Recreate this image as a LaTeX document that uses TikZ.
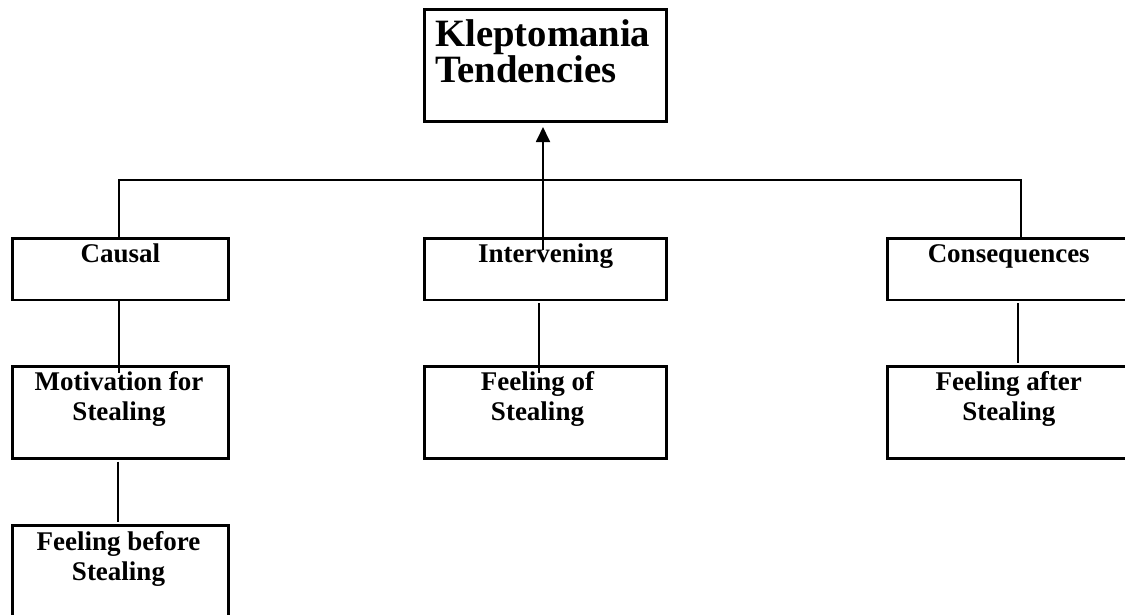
\documentclass[tikz,border=0pt]{standalone}
\usepackage{fontspec}
\setmainfont{Liberation Serif}
\usetikzlibrary{arrows.meta}
\begin{document}
\begin{tikzpicture}[x=1pt,y=-1pt,
  box/.style={draw, line width=2.6pt, rectangle, inner sep=0pt, outer sep=0pt,
    minimum width=#1},
  lbl/.style={font=\bfseries\fontsize{27}{30}\selectfont, align=center, inner sep=0pt, anchor=base},
  ttl/.style={font=\bfseries\fontsize{38.7}{33.5}\selectfont, align=left, inner sep=0pt, anchor=base west},
  conn/.style={line width=1.8pt},
  hconn/.style={line width=1.6pt}]
\useasboundingbox (0,0) rectangle (1125,614);
\clip (0,0) rectangle (1125,614);
% boxes
\node[box=242, minimum height=112] (top) at (545.5,65.5) {};
\node[box=216, minimum height=61.5] (causal) at (120.5,269.25) {};
\node[box=242, minimum height=61.5] (interv) at (545.5,269.25) {};
\node[box=242.5, minimum height=61.5] (cons) at (1008.75,269.25) {};
\node[box=216, minimum height=92] (motiv) at (120.5,412.5) {};
\node[box=242, minimum height=92] (feelof) at (545.5,412.5) {};
\node[box=242.5, minimum height=92] (feelafter) at (1008.75,412.5) {};
\node[box=216, minimum height=114.5] (feelbefore) at (120.5,582.75) {};
% texts (base anchor of a two-line text is the baseline of its last line)
\node[ttl] (ttltext) at ([xshift=10.5pt,yshift=-73pt]top.north west) {Kleptomania\\Tendencies};
\node[lbl] (causaltext) at ([yshift=-23.5pt]causal.north) {Causal};
\node[lbl] (intervtext) at ([yshift=-23.5pt]interv.north) {Intervening};
\node[lbl] (constext) at ([yshift=-23.5pt]cons.north) {Consequences};
\node[lbl] (motivtext) at ([xshift=-1.5pt,yshift=-54pt]motiv.north) {Motivation for\\Stealing};
\node[lbl] (feeloftext) at ([xshift=-8pt,yshift=-54pt]feelof.north) {Feeling of\\Stealing};
\node[lbl] (feelaftertext) at ([xshift=0pt,yshift=-54pt]feelafter.north) {Feeling after\\Stealing};
\node[lbl] (feelbeforetext) at ([xshift=-2pt,yshift=-54.5pt]feelbefore.north) {Feeling before\\Stealing};
% tree line
\coordinate (hl) at (119,180);
\coordinate (hr) at (1021,180);
\draw[hconn] (causal.north -| hl) -- (hl) -- (hr) -- (cons.north -| hr);
% arrow
\draw[conn, -{Triangle[length=15pt,width=14pt]}]
  ([xshift=-2.5pt,yshift=-11.5pt]interv.north) -- ([xshift=-2.5pt,yshift=-5.5pt]top.south);
% vertical connectors
\draw[conn] ([xshift=-1.5pt,yshift=-0.5pt]causal.south) -- ([xshift=-1.5pt,yshift=-6.5pt]motiv.north);
\draw[conn] ([xshift=-2.5pt,yshift=-3pt]motiv.south) -- ([xshift=-2.5pt,yshift=3.5pt]feelbefore.north);
\draw[conn] ([xshift=-6.5pt,yshift=-3pt]interv.south) -- ([xshift=-6.5pt,yshift=-6.5pt]feelof.north);
\draw[conn] ([xshift=9.25pt,yshift=-3pt]cons.south) -- ([xshift=9.25pt,yshift=3.5pt]feelafter.north);
\end{tikzpicture}
\end{document}
